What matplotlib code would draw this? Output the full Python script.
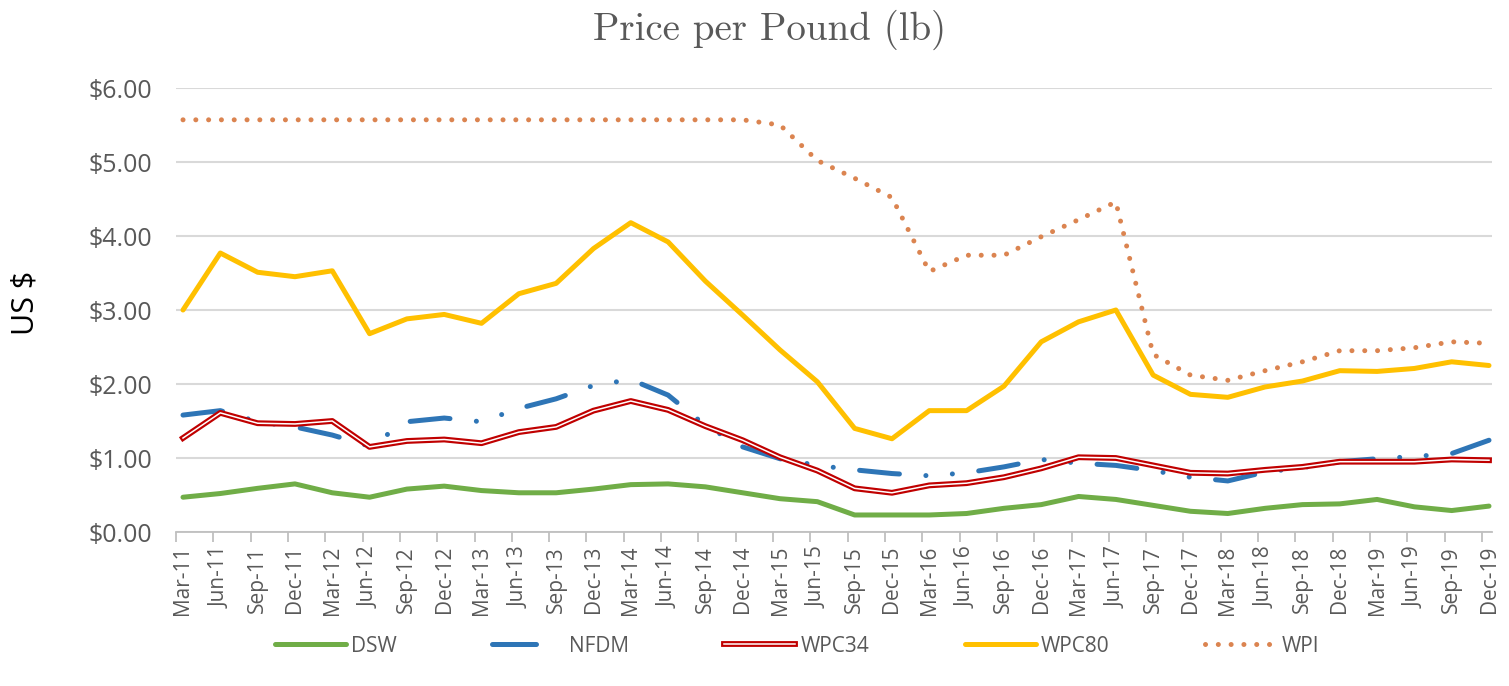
import matplotlib
matplotlib.use("Agg")
import matplotlib.pyplot as plt
import matplotlib.patheffects as pe
from matplotlib.lines import Line2D
from matplotlib.ticker import FuncFormatter

# ---------------- data ----------------
quarters = ["Mar-11", "Jun-11", "Sep-11", "Dec-11", "Mar-12", "Jun-12", "Sep-12", "Dec-12",
            "Mar-13", "Jun-13", "Sep-13", "Dec-13", "Mar-14", "Jun-14", "Sep-14", "Dec-14",
            "Mar-15", "Jun-15", "Sep-15", "Dec-15", "Mar-16", "Jun-16", "Sep-16", "Dec-16",
            "Mar-17", "Jun-17", "Sep-17", "Dec-17", "Mar-18", "Jun-18", "Sep-18", "Dec-18",
            "Mar-19", "Jun-19", "Sep-19", "Dec-19"]

dsw = [0.47, 0.52, 0.59, 0.65, 0.53, 0.47, 0.58, 0.62, 0.56, 0.53, 0.53, 0.58,
       0.64, 0.65, 0.61, 0.53, 0.45, 0.41, 0.23, 0.23, 0.23, 0.25, 0.32, 0.37,
       0.48, 0.44, 0.36, 0.28, 0.25, 0.32, 0.37, 0.38, 0.44, 0.34, 0.29, 0.35]

nfdm = [1.58, 1.64, 1.49, 1.42, 1.31, 1.16, 1.49, 1.54, 1.49, 1.67, 1.80, 1.98,
        2.06, 1.85, 1.44, 1.15, 0.99, 0.90, 0.84, 0.79, 0.76, 0.80, 0.88, 0.98,
        0.93, 0.90, 0.83, 0.74, 0.69, 0.81, 0.87, 0.95, 0.99, 1.02, 1.06, 1.24]

wpc34 = [1.27, 1.61, 1.47, 1.46, 1.50, 1.15, 1.23, 1.25, 1.20, 1.35, 1.42, 1.64,
         1.77, 1.65, 1.43, 1.24, 1.01, 0.83, 0.59, 0.53, 0.63, 0.66, 0.74, 0.86,
         1.01, 1.00, 0.90, 0.80, 0.79, 0.84, 0.88, 0.95, 0.95, 0.95, 0.98, 0.97]

wpc80 = [3.00, 3.77, 3.51, 3.45, 3.53, 2.68, 2.88, 2.94, 2.82, 3.22, 3.36, 3.83,
         4.18, 3.92, 3.39, 2.93, 2.46, 2.03, 1.40, 1.26, 1.64, 1.64, 1.97, 2.57,
         2.84, 3.00, 2.12, 1.86, 1.82, 1.96, 2.04, 2.18, 2.17, 2.21, 2.30, 2.25]

wpi = [5.57, 5.57, 5.57, 5.57, 5.57, 5.57, 5.57, 5.57, 5.57, 5.57, 5.57, 5.57,
       5.57, 5.57, 5.57, 5.57, 5.50, 5.02, 4.78, 4.52, 3.52, 3.74, 3.74, 3.99,
       4.22, 4.46, 2.40, 2.12, 2.05, 2.18, 2.30, 2.45, 2.45, 2.49, 2.57, 2.55]

yticks = [0, 1, 2, 3, 4, 5, 6]

# ---------------- figure ----------------
W, H = 1509, 686
fig = plt.figure(figsize=(W / 100, H / 100), dpi=100)
ax = fig.add_axes([176 / W, 1 - 532 / H, (1492 - 176) / W, (532 - 88) / H])

x = list(range(len(quarters)))
LW = 3.6
C_DSW, C_NFDM, C_WPC34, C_WPC80, C_WPI = "#70AD47", "#2E75B6", "#C00000", "#FFC000", "#DB8450"

ax.plot(x, dsw, color=C_DSW, lw=LW, solid_capstyle="round", solid_joinstyle="round", zorder=3)
ax.plot(x, nfdm, color=C_NFDM, lw=LW, linestyle=(0, (8, 5.3, 0.01, 5.3, 0.01, 5.3)),
        dash_capstyle="round", dash_joinstyle="round", zorder=4)
ax.plot(x, wpc34, color="white", lw=1.1, solid_joinstyle="round",
        path_effects=[pe.Stroke(linewidth=4.2, foreground=C_WPC34), pe.Normal()], zorder=5)
ax.plot(x, wpc80, color=C_WPC80, lw=LW, solid_capstyle="round", solid_joinstyle="round", zorder=3)
ax.plot(x, wpi, color=C_WPI, lw=LW, linestyle=(0, (0.01, 2.55)),
        dash_capstyle="round", zorder=3)

# index 0 at 183 px, index 35 at 1489 px; axis 176..1492 px
unit = (1489 - 183) / 35.0
ax.set_xlim(-(183 - 176) / unit, 35 + (1492 - 1489) / unit)
ax.set_ylim(0, 6)
ax.set_yticks(yticks)
ax.yaxis.set_major_formatter(FuncFormatter(lambda v, p: "${:.2f}".format(v)))
ax.set_xticks(x)
ax.set_xticklabels(quarters, rotation=90)
ax.set_xticks([i - 7 / unit for i in x], minor=True)

for s in ["top", "right", "left"]:
    ax.spines[s].set_visible(False)
ax.spines["bottom"].set_color("#BFBFBF")
ax.spines["bottom"].set_linewidth(1.3)
ax.grid(axis="y", color="#D9D9D9", lw=1.5, zorder=0)
ax.set_axisbelow(True)

ax.tick_params(axis="y", length=0, pad=17, labelsize=18, labelcolor="#595959",
               labelfontfamily="Open Sans")
ax.tick_params(axis="x", which="major", length=0, pad=10, labelsize=15,
               labelcolor="#595959", labelfontfamily="Open Sans")
ax.tick_params(axis="x", which="minor", length=7, width=1.3, color="#BFBFBF")

fig.text(25 / W, 1 - 303 / H, "US $", rotation=90, ha="center", va="center",
         fontsize=22, family="Open Sans", color="black")

fig.text(770 / W, 1 - 30 / H, "Price per Pound (lb)", ha="center", va="center",
         fontsize=28, family="cmr10", color="#595959")

handles = [
    Line2D([], [], color=C_DSW, lw=LW, solid_capstyle="round"),
    Line2D([], [], color=C_NFDM, lw=LW, linestyle=(0, (8.8, 20)), dash_capstyle="round"),
    Line2D([], [], color="white", lw=1.1,
           path_effects=[pe.Stroke(linewidth=4.2, foreground=C_WPC34), pe.Normal()]),
    Line2D([], [], color=C_WPC80, lw=LW, solid_capstyle="round"),
    Line2D([], [], color=C_WPI, lw=LW, linestyle=(0, (0.01, 2.55)), dash_capstyle="round"),
]
labels = ["DSW", "NFDM", "WPC34", "WPC80", "WPI"]
leg = fig.legend(handles, labels, loc="center", bbox_to_anchor=(797 / W, 1 - 646 / H), ncol=5,
                 frameon=False, prop={"family": "Open Sans", "size": 15},
                 handlelength=3.4, columnspacing=4.6, handletextpad=0.25)
for t in leg.get_texts():
    t.set_color("#595959")

fig.savefig("out.png", dpi=100)
